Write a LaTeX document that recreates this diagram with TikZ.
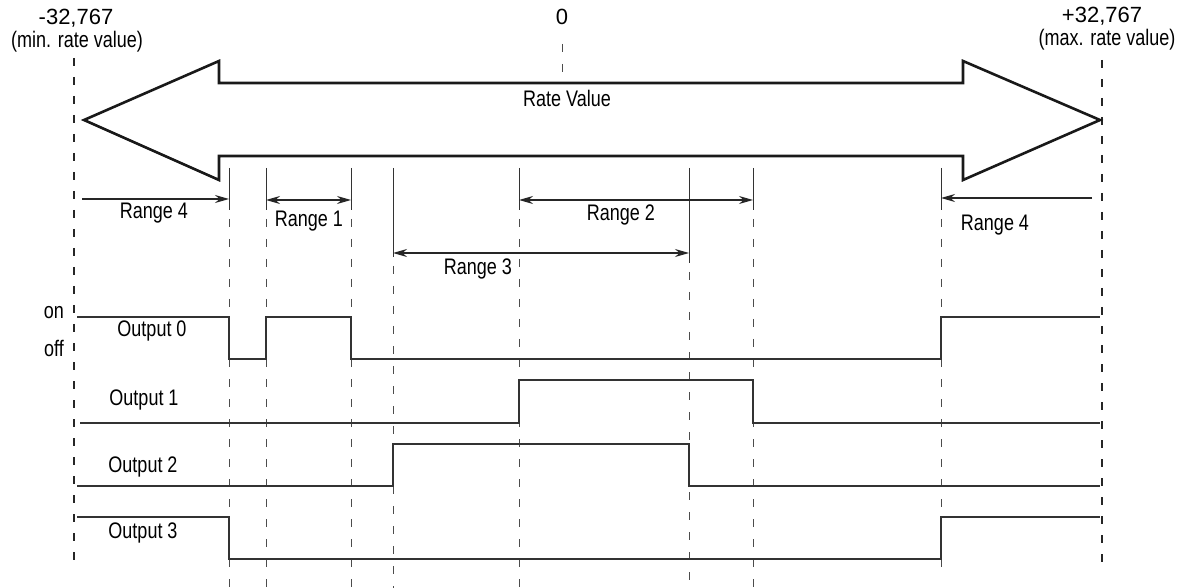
\documentclass[tikz,border=0pt]{standalone}
\usepackage{fontspec}
\setmainfont{Liberation Sans}[FakeStretch=0.8]
\newfontfamily\numfont{Liberation Sans}
\usetikzlibrary{arrows.meta}
% a range limit: solid tick at the top, dashed guide below
\newcommand\rangetick[4]{%
  \coordinate (#1top) at (#2,168);
  \coordinate (#1bot) at (#2,#3);
  \coordinate (#1end) at (#2,#4);
  \draw[tickline] (#1top) -- (#1bot);
  \draw[guide] ([yshift=-9pt]#1bot) -- (#1end);
}
\begin{document}
\begin{tikzpicture}[x=1pt,y=-1pt,
  lbl/.style={font=\fontsize{22.5}{26}\selectfont, inner sep=0pt, anchor=base},
  num/.style={font=\numfont\fontsize{22}{26}\selectfont, inner sep=0pt, anchor=base},
  bound/.style={line width=2pt, dash pattern=on 8pt off 11pt, black!85},
  guide/.style={line width=0.9pt, dash pattern=on 8pt off 12pt, black!70},
  tickline/.style={line width=1pt, black!80},
  wave/.style={line width=1.4pt, black!80, line join=miter},
  bigarrow/.style={line width=2.6pt, black!90, line join=miter},
  tipR/.style={-{Stealth[length=14pt,width=8pt]}},
  tipLR/.style={{Stealth[length=14pt,width=8pt]}-{Stealth[length=14pt,width=8pt]}},
  span/.style={line width=1.3pt, black!85}
]
\useasboundingbox (0,0) rectangle (1187,588);

% switching points along the rate axis
\def\xL{74}\def\xR{1102}
\def\xa{229}\def\xb{266}\def\xc{351}\def\xd{393}
\def\xe{519}\def\xf{689}\def\xg{753}\def\xh{941}

% end labels of the scale
\node[num] (minval) at (76,25) {-32,767};
\node[lbl] (minlbl) at (77,48) {(min. rate value)};
\node[num] (zero) at (562,25) {0};
\node[num] (maxval) at (1102,23) {+32,767};
\node[lbl] (maxlbl) at (1107,46) {(max. rate value)};

% boundary lines of the full range
\draw[bound] (\xL,58) -- (\xL,565);
\draw[bound] (\xR,60) -- (\xR,565);
\draw[guide] (562,44) -- (562,83);

% double-headed rate arrow
\draw[bigarrow] (84,120) -- (219,61) -- (219,83) -- (963,83) -- (963,61)
  -- (1100,120) -- (963,180) -- (963,156) -- (219,156) -- (219,180) -- cycle;
\node[lbl] (rate) at (567,107) {Rate Value};

% range limit ticks
\rangetick{a}{\xa}{210}{588}
\rangetick{b}{\xb}{210}{588}
\rangetick{c}{\xc}{210}{588}
\rangetick{d}{\xd}{257}{588}
\rangetick{e}{\xe}{210}{588}
\rangetick{f}{\xf}{263}{588}
\rangetick{g}{\xg}{210}{588}
\rangetick{h}{\xh}{210}{578}

% range dimension arrows
\coordinate (r4left) at (82,199);
\coordinate (r4right) at (1092,198);
\coordinate (lvlA) at (0,200);
\coordinate (lvlB) at (0,253);
\draw[span,tipR] (r4left) -- (atop |- r4left);
\draw[span,tipLR] (btop |- lvlA) -- (ctop |- lvlA);
\draw[span,tipLR] (etop |- lvlA) -- (gtop |- lvlA);
\draw[span,tipLR] (dtop |- lvlB) -- (ftop |- lvlB);
\draw[span,tipR] (r4right) -- (htop |- r4right);

\node[lbl] (rg4a) at (154,219) {Range 4};
\node[lbl] (rg1) at (309,227) {Range 1};
\node[lbl] (rg2) at (621,221) {Range 2};
\node[lbl] (rg3) at (478,275) {Range 3};
\node[lbl] (rg4b) at (995,231) {Range 4};

% output states
\node[lbl, anchor=base east] (on) at (64,319) {on};
\node[lbl, anchor=base east] (off) at (64,356) {off};

\draw[wave] (77,317) -- (\xa,317) -- (\xa,359) -- (\xb,359) -- (\xb,317)
  -- (\xc,317) -- (\xc,359) -- (\xh,359) -- (\xh,317) -- (1100,317);
\node[lbl] (out0) at (152,337) {Output 0};

\draw[wave] (80,423) -- (\xe,423) -- (\xe,380) -- (\xg,380) -- (\xg,423) -- (1100,423);
\node[lbl] (out1) at (144,405) {Output 1};

\draw[wave] (77,486) -- (\xd,486) -- (\xd,444) -- (\xf,444) -- (\xf,486) -- (1100,486);
\node[lbl] (out2) at (143,472) {Output 2};

\draw[wave] (77,517) -- (\xa,517) -- (\xa,559) -- (\xh,559) -- (\xh,517) -- (1100,517);
\node[lbl] (out3) at (143,538) {Output 3};
\end{tikzpicture}
\end{document}
